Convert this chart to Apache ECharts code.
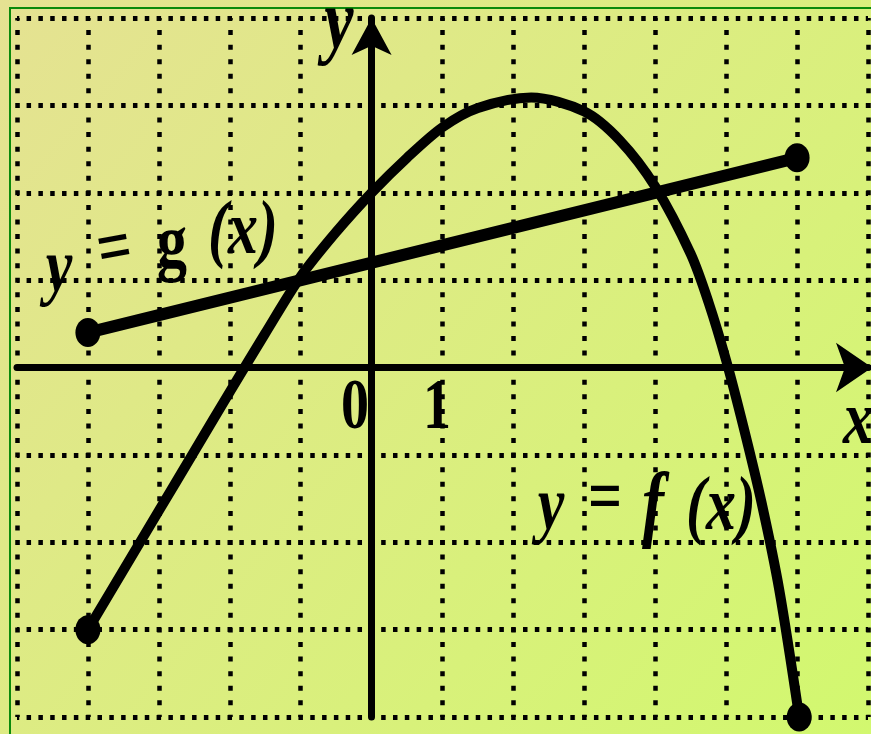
<!DOCTYPE html>
<html>
<head>
<meta charset="utf-8">
<script src="https://cdn.jsdelivr.net/npm/echarts@6/dist/echarts.min.js"></script>
<style>
  html, body { margin: 0; padding: 0; }
  #main { width: 871px; height: 734px; }
</style>
</head>
<body>
<div id="main"></div>
<script>
// axis ranges (grid units)
var xRange = [-5, 7];
var yRange = [-4, 4];

// y = f(x)
var fX = [-4, -3.5, -3, -2.5, -2, -1.5, -1, -0.5, 0, 0.5, 1, 1.5, 2.25, 3, 3.5, 4, 4.5, 4.75, 5, 5.25, 5.5, 5.75, 6.03];
var fY = [-3, -2.32, -1.64, -0.96, -0.28, 0.39, 1.04, 1.55, 2.0, 2.4, 2.75, 2.97, 3.09, 2.93, 2.6, 2.07, 1.3, 0.75, 0.08, -0.7, -1.55, -2.55, -4];

// y = g(x), a straight segment
var gX = [-4, 6];
var gY = [0.4, 2.4];

var tickLabels = ['0', '1'];

function pairs(xs, ys) {
  return xs.map(function (x, i) { return [x, ys[i]]; });
}
function ends(xs, ys) {
  return [[xs[0], ys[0]], [xs[xs.length - 1], ys[ys.length - 1]]];
}

var FONT = 'italic bold 60px "Liberation Serif"';
var FONT_UP = 'bold 60px "Liberation Serif"';

function txt(text, x, y, font, rot, sy) {
  return {
    type: 'text', x: x, y: y, scaleY: sy || 1.28, rotation: rot || 0, z: 100,
    style: {
      text: text, font: font, fill: '#000',
      align: 'center', verticalAlign: 'middle',
      textAlign: 'center', textVerticalAlign: 'middle'
    }
  };
}

var myChart = echarts.init(document.getElementById('main'));

var option = {
  animation: false,
  backgroundColor: {
    type: 'linear', x: 0, y: 0, x2: 1, y2: 1,
    colorStops: [{offset: 0, color: '#e5e292'}, {offset: 1, color: '#d2f86f'}]
  },
  grid: {left: 17, top: 18, width: 851, height: 699},
  xAxis: {
    type: 'value', min: xRange[0], max: xRange[1], interval: 1,
    axisLine: {
      show: true, onZero: true,
      symbol: ['none', 'arrow'], symbolSize: [37, 36], symbolOffset: [0, 4],
      lineStyle: {color: '#000', width: 7}
    },
    axisTick: {show: false},
    axisLabel: {show: false},
    splitLine: {
      show: true,
      lineStyle: {color: '#000', width: 4.5, type: [5, 9.57], dashOffset: 2.5}
    }
  },
  yAxis: {
    type: 'value', min: yRange[0], max: yRange[1], interval: 1,
    axisLine: {
      show: true, onZero: true,
      symbol: ['none', 'arrow'], symbolSize: [30, 37], symbolOffset: [0, 0],
      lineStyle: {color: '#000', width: 7}
    },
    axisTick: {show: false},
    axisLabel: {show: false},
    splitLine: {
      show: true,
      lineStyle: {color: '#000', width: 5, type: [4.5, 7.32], dashOffset: 2.25}
    }
  },
  series: [
    {
      name: 'f', type: 'line', data: pairs(fX, fY), smooth: 0.3,
      showSymbol: false, lineStyle: {color: '#000', width: 10}, z: 5
    },
    {
      name: 'g', type: 'line', data: pairs(gX, gY),
      showSymbol: false, lineStyle: {color: '#000', width: 12}, z: 5
    },
    {
      type: 'scatter', data: ends(fX, fY).concat(ends(gX, gY)),
      symbol: 'circle', symbolSize: [25, 29],
      itemStyle: {color: '#000', opacity: 1}, z: 6
    }
  ],
  graphic: [
    {
      type: 'rect', shape: {x: 10, y: 8, width: 900, height: 800}, z: 90,
      style: {fill: 'none', stroke: '#0b8a0b', lineWidth: 2}
    },
    txt(tickLabels[0], 355, 409, 'bold 56px "Liberation Serif"'),
    txt(tickLabels[1], 437, 409, 'bold 56px "Liberation Serif"'),
    txt('x', 858, 423, FONT),
    txt('y', 339, 26, 'italic bold 66px "Liberation Serif"'),
    // y = f(x)
    txt('y', 551, 509, FONT),
    txt('=', 605, 501, FONT_UP),
    txt('f', 653, 509, 'italic bold 66px "Liberation Serif"'),
    txt('(x)', 721, 509, FONT),
    // y = g(x)
    txt('y', 59, 271, FONT),
    txt('=', 115, 252, FONT_UP, 0.18),
    txt('g', 172, 247, FONT_UP),
    txt('(x)', 243, 233, FONT)
  ]
};

myChart.setOption(option);
</script>
</body>
</html>
